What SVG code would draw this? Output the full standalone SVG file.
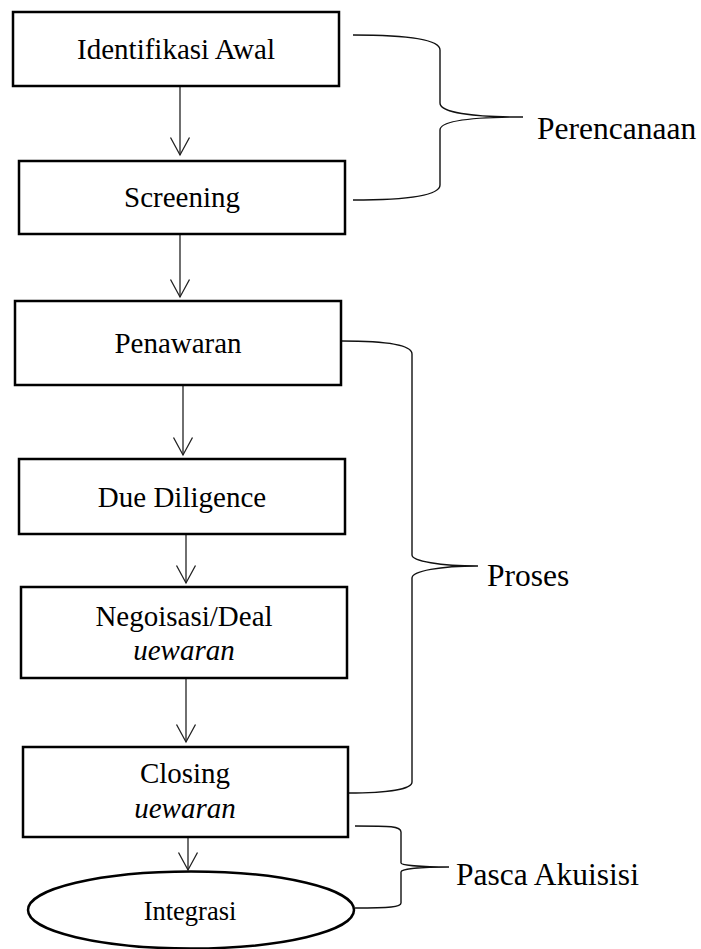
<svg xmlns="http://www.w3.org/2000/svg" width="701" height="949" viewBox="0 0 701 949">
<style>
.box{fill:#fff;stroke:#000;stroke-width:2.5}
.lbl{font-family:"Liberation Serif","Times New Roman",serif;font-size:29px;fill:#000;text-anchor:middle}
.it{font-style:italic}
.big{font-family:"Liberation Serif","Times New Roman",serif;font-size:31.5px;fill:#000}
.con{fill:none;stroke:#222;stroke-width:1.3}
.brace{fill:none;stroke:#111;stroke-width:1.4}
</style>
<defs>
<marker id="arr" markerUnits="userSpaceOnUse" markerWidth="22" markerHeight="22" viewBox="0 0 22 22" refX="19" refY="11" orient="auto">
<path d="M1.5,1.5 L19,11 L1.5,20.5" fill="none" stroke="#222" stroke-width="1.3"/>
</marker>
</defs>
<g id="connectors">
<line class="con" x1="180" y1="86" x2="180" y2="155" marker-end="url(#arr)"/>
<line class="con" x1="180" y1="234" x2="180" y2="297" marker-end="url(#arr)"/>
<line class="con" x1="183" y1="385" x2="183" y2="455" marker-end="url(#arr)"/>
<line class="con" x1="186" y1="534" x2="186" y2="583" marker-end="url(#arr)"/>
<line class="con" x1="186" y1="678" x2="186" y2="742" marker-end="url(#arr)"/>
<line class="con" x1="188" y1="837" x2="188" y2="870" marker-end="url(#arr)"/>
<path class="brace" d="M353,35 C405,35 440,39 440,50 L440,103 C440,112 470,117 523,117 M523,117 C470,117 440,121 440,130 L440,185 C440,196 405,200 353,200"/>
<path class="brace" d="M342,341 C388,341 412,345 412,354 L412,555 C412,561 440,566 478,566 M478,566 C440,566 412,571 412,578 L412,782 C412,789 388,793 348,793"/>
<path class="brace" d="M355,826 C390,826 401,826 401,832 L401,863 C401,865 420,867 449,867 M449,867 C420,867 401,869 401,872 L401,903 C401,907 390,908 355,908"/>
</g>
<g id="n1"><rect class="box" x="13" y="12" width="326" height="74"/><text class="lbl" x="176" y="59">Identifikasi Awal</text></g>
<g id="n2"><rect class="box" x="19" y="161" width="326" height="73"/><text class="lbl" x="182" y="207">Screening</text></g>
<g id="n3"><rect class="box" x="15" y="301" width="326" height="84"/><text class="lbl" x="178" y="353">Penawaran</text></g>
<g id="n4"><rect class="box" x="19" y="459" width="326" height="75"/><text class="lbl" x="182" y="507">Due Diligence</text></g>
<g id="n5"><rect class="box" x="21" y="587" width="326" height="91"/><text class="lbl" x="184" y="626">Negoisasi/Deal</text><text class="lbl it" x="184" y="660">uewaran</text></g>
<g id="n6"><rect class="box" x="23" y="747" width="325" height="90"/><text class="lbl" x="185" y="783">Closing</text><text class="lbl it" x="185" y="818">uewaran</text></g>
<g id="n7"><ellipse cx="191" cy="910" rx="163" ry="38.5" fill="#fff" stroke="#000" stroke-width="2.5"/><text class="lbl" x="190" y="920" style="font-size:26.5px">Integrasi</text></g>
<g id="l1"><text class="big" x="537" y="139">Perencanaan</text></g>
<g id="l2"><text class="big" x="487" y="586">Proses</text></g>
<g id="l3"><text class="big" x="456" y="885">Pasca Akuisisi</text></g>
</svg>
